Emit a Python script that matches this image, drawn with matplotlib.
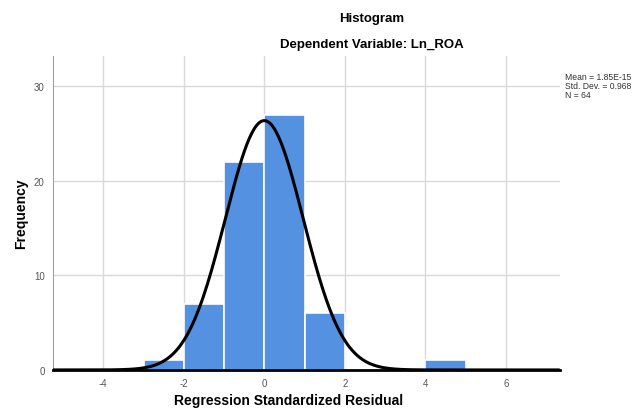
import numpy as np
import matplotlib
matplotlib.use('Agg')
import matplotlib.pyplot as plt

plt.rcParams['font.family'] = ['Liberation Sans', 'DejaVu Sans']
plt.rcParams['axes.unicode_minus'] = False

# histogram bins (left edges, width 1) and counts
bin_edges = [-3, -2, -1, 0, 1, 2, 3, 4, 5]
counts = [1, 7, 22, 27, 6, 0, 0, 1]

mean = 1.85e-15
std_dev = 0.968
n = 64

xticks = [-4, -2, 0, 2, 4, 6]
yticks = [0, 10, 20, 30]

fig = plt.figure(figsize=(6.38, 4.14), dpi=100)
ax = fig.add_axes([0.083, 0.104, 0.795, 0.758])

# bars
lefts = bin_edges[:-1]
widths = np.diff(bin_edges)
ax.bar(lefts, counts, width=widths, align='edge', color='#5591E1',
       edgecolor='white', linewidth=1.2, zorder=2)

# normal curve from the reported mean / sd / N
xs = np.linspace(-5.3, 7.3, 400)
curve = n * 1.0 * np.exp(-0.5 * ((xs - mean) / std_dev) ** 2) / (std_dev * np.sqrt(2 * np.pi))
ax.plot(xs, curve, color='black', linewidth=2.2, zorder=3)

ax.set_xlim(-5.25, 7.35)
ax.set_ylim(0, 33.2)
ax.set_xticks(xticks)
ax.set_yticks(yticks)
ax.grid(True, color='#d9d9d9', linewidth=1, zorder=0)
ax.set_axisbelow(True)

for s in ['top', 'right']:
    ax.spines[s].set_visible(False)
ax.spines['left'].set_color('#a0a0a0')
ax.spines['bottom'].set_color('black')
ax.spines['bottom'].set_linewidth(2)
ax.tick_params(length=0, labelsize=7, colors='#555555', pad=6)

ax.set_xlabel('Regression Standardized Residual', fontsize=10, fontweight='bold')
ax.xaxis.set_label_coords(0.464, -0.075)
ax.set_ylabel('Frequency', fontsize=10, fontweight='bold')

fig.text(0.583, 0.955, 'Histogram', ha='center', va='center', fontsize=9.5, fontweight='bold')
fig.text(0.583, 0.891, 'Dependent Variable: Ln_ROA', ha='center', va='center',
         fontsize=9.5, fontweight='bold')

fig.text(0.885, 0.823, 'Mean = 1.85E-15\nStd. Dev. = 0.968\nN = 64',
         ha='left', va='top', fontsize=6.2, color='#333333', linespacing=1.0)

fig.savefig('out.png', dpi=100)
